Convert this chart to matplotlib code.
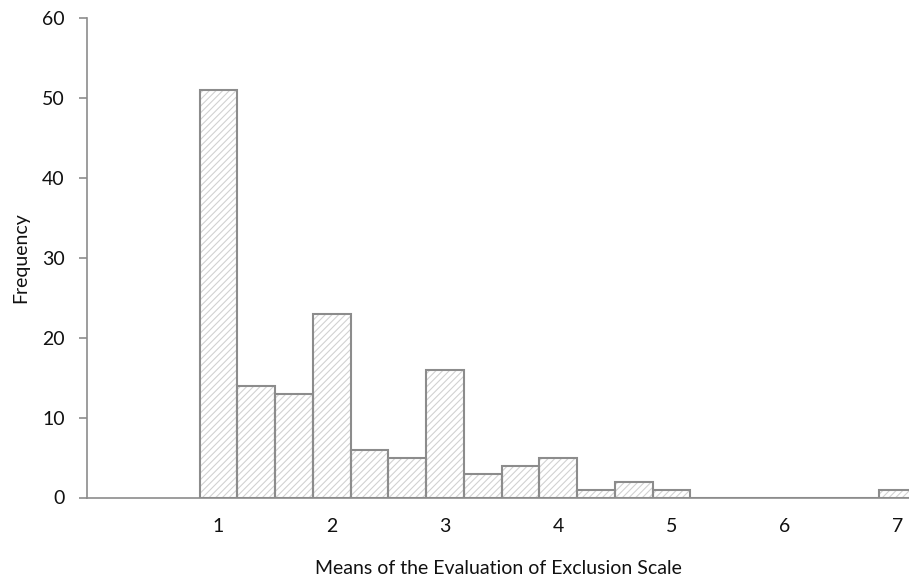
import matplotlib
matplotlib.use("Agg")
import matplotlib.pyplot as plt

# Datos del histograma (centro de cada intervalo y frecuencia)
centros = [1, 4/3, 5/3, 2, 7/3, 8/3, 3, 10/3, 11/3, 4, 13/3, 14/3, 5,
           16/3, 17/3, 6, 19/3, 20/3, 7]
frecuencias = [51, 14, 13, 23, 6, 5, 16, 3, 4, 5, 1, 2, 1,
               0, 0, 0, 0, 0, 1]
ancho = 1 / 3

ticks_x = [1, 2, 3, 4, 5, 6, 7]
ticks_y = [0, 10, 20, 30, 40, 50, 60]

plt.rcParams['font.family'] = ['Lato', 'DejaVu Sans']
plt.rcParams['hatch.linewidth'] = 0.8

fig = plt.figure(figsize=(9.09, 5.79), dpi=100)
ax = fig.add_axes([87 / 909, 1 - 497.5 / 579, 1 - 87 / 909, (497.5 - 18) / 579])

# Relleno rayado
ax.bar(centros, frecuencias, width=ancho, color='white',
       edgecolor='#d2d2d2', hatch='/////', linewidth=0, zorder=2)
# Contorno
ax.bar(centros, frecuencias, width=ancho, fill=False,
       edgecolor='#8c8c8c', linewidth=1.5, zorder=3)

ax.set_xlim(-0.161, 7.097)
ax.set_ylim(0, 60)
ax.set_xticks(ticks_x)
ax.set_yticks(ticks_y)

for lado in ['top', 'right']:
    ax.spines[lado].set_visible(False)
for lado in ['left', 'bottom']:
    ax.spines[lado].set_color('#8c8c8c')
    ax.spines[lado].set_linewidth(1.2)
ax.spines['bottom'].set_zorder(4)

ax.tick_params(axis='x', length=0, pad=15, labelsize=14, labelcolor='#111111')
ax.tick_params(axis='y', length=6, width=1.2, color='#8c8c8c', pad=10,
               labelsize=14, labelcolor='#111111')

ax.set_xlabel("Means of the Evaluation of Exclusion Scale", fontsize=14,
              color='#111111', labelpad=18)
ax.set_ylabel("Frequency", fontsize=14, color='#111111', labelpad=9)

fig.savefig("out.png", dpi=100)
